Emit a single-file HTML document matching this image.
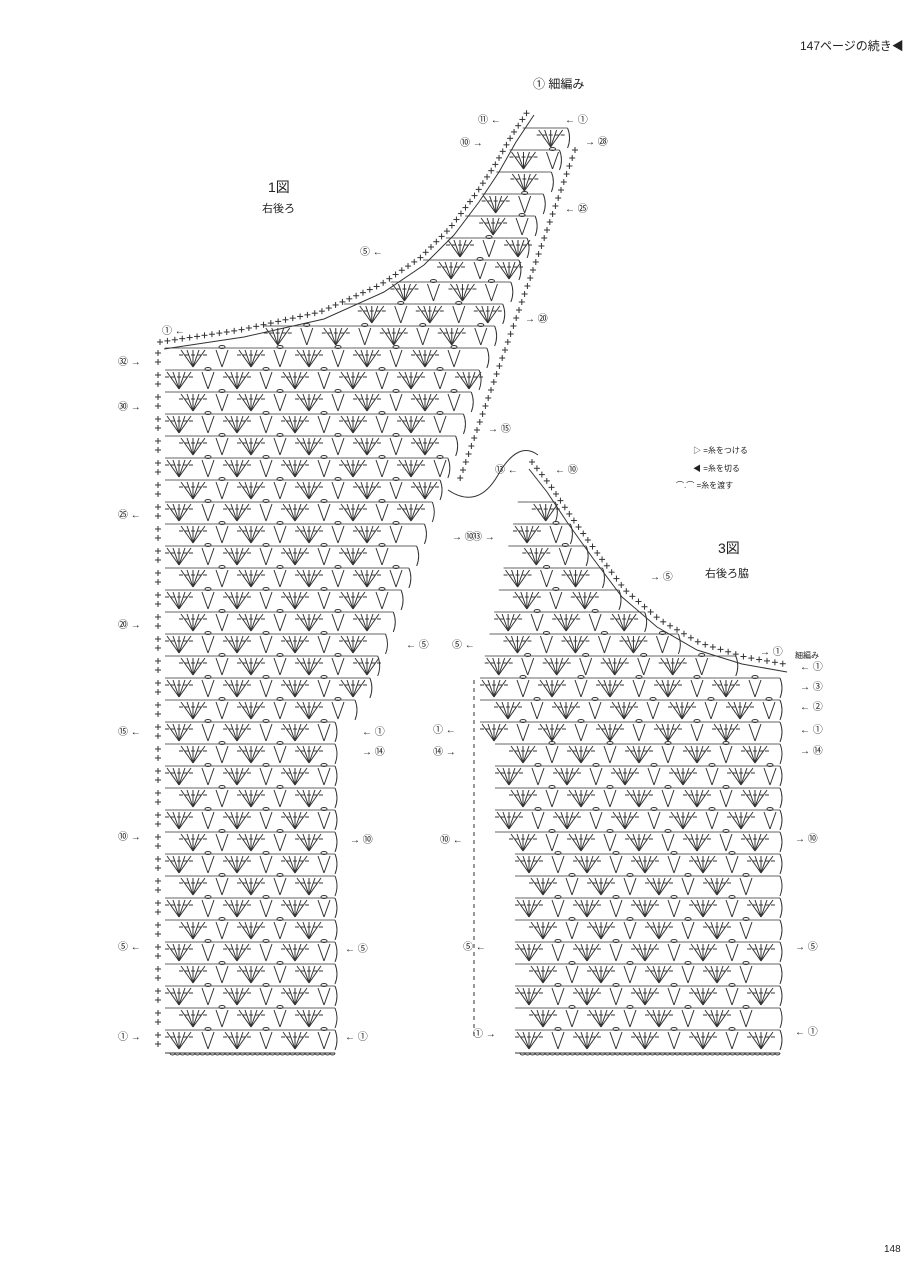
<!DOCTYPE html>
<html><head><meta charset="utf-8"><style>
body{margin:0;background:#fff;}
svg{display:block}
text{font-family:"Liberation Sans","Noto Sans CJK JP",sans-serif;fill:#222}
</style></head><body>
<svg id="s" width="915" height="1280" viewBox="0 0 915 1280" xmlns="http://www.w3.org/2000/svg">
<g stroke="#333" fill="none" stroke-width="1" id="g"></g>
<text x="800" y="50" font-size="12">147ページの続き◀</text>
<text x="533" y="88" font-size="12">① 細編み</text>
<text x="268" y="192" font-size="14">1図</text>
<text x="262" y="212" font-size="11">右後ろ</text>
<text x="718" y="553" font-size="14">3図</text>
<text x="705" y="577" font-size="11">右後ろ脇</text>
<text x="693" y="453" font-size="8">▷ =糸をつける</text>
<text x="693" y="471" font-size="8">◀ =糸を切る</text>
<text x="676" y="488" font-size="8">⌒.⌒ =糸を渡す</text>
<text x="795" y="658" font-size="8">細編み</text>
<text x="884" y="1252" font-size="10">148</text>
<g id="lab" font-size="10"></g>
</svg>
<script>
var NS="http://www.w3.org/2000/svg",g=document.getElementById('g'),lab=document.getElementById('lab');
function L(x1,y1,x2,y2,w){var e=document.createElementNS(NS,'line');e.setAttribute('x1',x1);e.setAttribute('y1',y1);e.setAttribute('x2',x2);e.setAttribute('y2',y2);if(w)e.setAttribute('stroke-width',w);g.appendChild(e);}
function P(d){var e=document.createElementNS(NS,'path');e.setAttribute('d',d);g.appendChild(e);}
function T(x,y,s){var e=document.createElementNS(NS,'text');e.setAttribute('x',x);e.setAttribute('y',y);e.textContent=s;lab.appendChild(e);}
function row(x0,x1,yb,ph){var yt=yb-20;L(x0,yt,x1,yt,0.8);var k=0;
 for(var x=x0+14+(ph?14:0);x<x1-6;x+=29,k++){var fan=(k%2==0);
  if(fan){for(var j=-2;j<=2;j++){L(x,yb-1,x+j*6,yt+2);L(x+j*6-2,yt+7,x+j*6+2,yt+7)}}
  else{L(x,yb-1,x-6,yt+2);L(x,yb-1,x+6,yt+2);P('M'+(x-3)+' '+(yt-1)+'a3 1.5 0 1 0 6 0a3 1.5 0 1 0 -6 0');}}
 P('M'+x1+' '+yt+'q4 10 0 20');}
function plus(x,y){L(x-3,y,x+3,y);L(x,y-3,x,y+3);}
function poly(pts,step){
 var acc=0;for(var i=1;i<pts.length;i++){var a=pts[i-1],b=pts[i],len=Math.hypot(b[0]-a[0],b[1]-a[1]);
  for(var s=acc;s<len;s+=step){var t=s/len;plus(a[0]+(b[0]-a[0])*t,a[1]+(b[1]-a[1])*t);}acc=(acc-len)%step;if(acc<0)acc+=step;}}
function xAt(pts,y){var ys=pts.map(function(p){return p[1]});var mn=Math.min.apply(0,ys);
 if(y<mn){return pts[ys.indexOf(mn)][0];}
 for(var i=1;i<pts.length;i++){var a=pts[i-1],b=pts[i];if((y-a[1])*(y-b[1])<=0){var t=(y-a[1])/(b[1]-a[1]);return a[0]+(b[0]-a[0])*t;}}return pts[pts.length-1][0];}
var b1=[[160,342],[240,330],[320,312],[380,285],[420,258],[450,228],[475,195],[495,165],[512,135],[530,108]];
// chart1
function r1(y){if(y>740)return 335;if(y>715)return 355;var t=(740-y)/(740-345);return 355+t*140;}
for(var i=0;i<32;i++){var yb=1050-22*i;row(165,r1(yb),yb,i%2);plus(158,yb-6);plus(158,yb-15);}
P('M165 1053h170');for(var x=170;x<335;x+=5)P('M'+x+' 1053a2.5 2 0 1 0 5 0');
for(var i=0;i<10;i++){var yb=1050-22*(32+i);var xr=495+(345-yb)/190*70;var xl=xAt(b1,yb-20)+6;if(xl<xr-20)row(xl,xr,yb,i%2);}
poly(b1,7.5);
var d='M'+b1.map(function(p){return [p[0]+4,p[1]+7]}).join('L');P(d);
for(var y=150;y<480;y+=8){plus(575-(y-150)*0.35,y)}
P('M448 490q30 20 50 -15t40 -20');
// chart3
var b3=[[532,462],[550,485],[570,515],[595,550],[625,590],[660,620],[700,643],[745,657],[790,665]];
for(var i=0;i<17;i++){var yb=1050-22*i;var xl=i<9?515:(i<14?495:480);row(xl,780,yb,i%2);}
P('M515 1053h265');for(var x=520;x<780;x+=5)P('M'+x+' 1053a2.5 2 0 1 0 5 0');
for(var i=0;i<10;i++){var yb=1050-22*(17+i);var xl=480+(676-yb+22)/210*45;var xr=Math.min(785,xAt(b3,yb-20)-6);if(xr>xl+20)row(xl,xr,yb,i%2);}
poly(b3,8);
var d3='M'+b3.map(function(p){return [p[0]-3,p[1]+7]}).join('L');P(d3);
for(var y=680;y<1040;y+=8)L(474,y,474,y+4);
// labels
var l1=[[118,365,'㉜ →'],[118,410,'㉚ →'],[118,518,'㉕ ←'],[118,628,'⑳ →'],[118,735,'⑮ ←'],[118,840,'⑩ →'],[118,950,'⑤ ←'],[118,1040,'① →'],[162,334,'① ←'],[360,255,'⑤ ←'],[478,123,'⑪ ←'],[460,146,'⑩ →'],[565,123,'← ①'],[585,145,'→ ㉘'],[565,212,'← ㉕'],[525,322,'→ ⑳'],[488,432,'→ ⑮'],[452,540,'→ ⑩'],[406,648,'← ⑤'],[362,735,'← ①'],[362,755,'→ ⑭'],[350,843,'→ ⑩'],[345,952,'← ⑤'],[345,1040,'← ①']];
l1.forEach(function(a){T(a[0],a[1],a[2])});
var l3=[[472,540,'⑬ →'],[495,473,'⑬ ←'],[555,473,'← ⑩'],[650,580,'→ ⑤'],[452,648,'⑤ ←'],[433,733,'① ←'],[433,755,'⑭ →'],[440,843,'⑩ ←'],[463,950,'⑤ ←'],[473,1037,'① →'],[760,655,'→ ①'],[800,670,'← ①'],[800,690,'→ ③'],[800,710,'← ②'],[800,733,'← ①'],[800,754,'→ ⑭'],[795,842,'→ ⑩'],[795,950,'→ ⑤'],[795,1035,'← ①']];
l3.forEach(function(a){T(a[0],a[1],a[2])});
</script>
</body></html>
